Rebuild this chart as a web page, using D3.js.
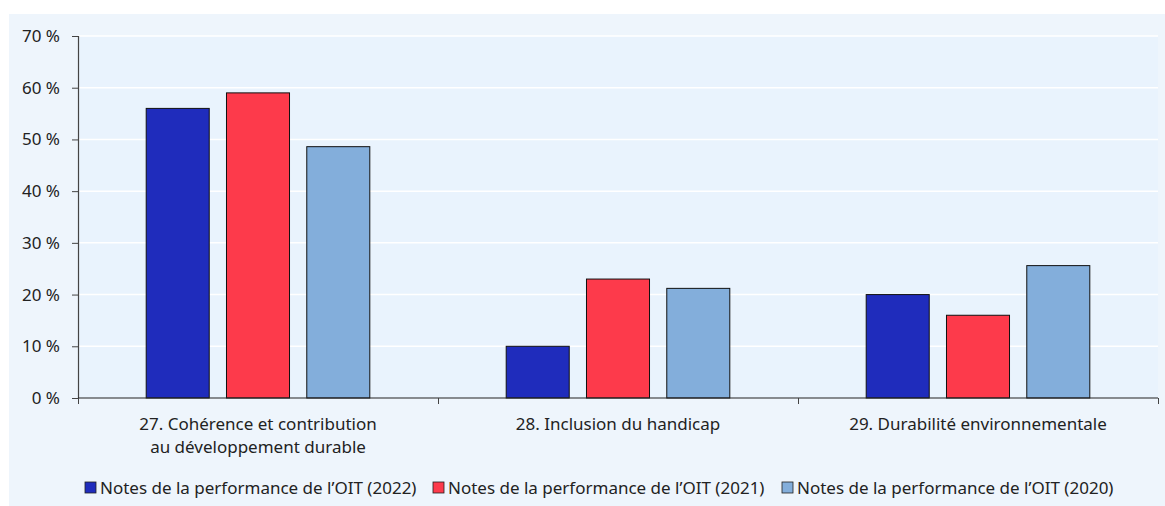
<!DOCTYPE html>
<html><head><meta charset="utf-8">
<script src="https://cdn.jsdelivr.net/npm/d3@7"></script>
<style>
html,body{margin:0;padding:0;background:#fff;}
svg text{font-family:"Noto Sans","Open Sans",sans-serif;fill:#222;}
</style></head>
<body>
<svg id="chart" width="1165" height="506"></svg>
<script>
const categories = [["27. Cohérence et contribution","au développement durable"],["28. Inclusion du handicap"],["29. Durabilité environnementale"]];
const seriesNames = ["Notes de la performance de l\u2019OIT (2022)","Notes de la performance de l\u2019OIT (2021)","Notes de la performance de l\u2019OIT (2020)"];
const values2022 = [56, 10, 20];
const values2021 = [59, 23, 16];
const values2020 = [48.6, 21.2, 25.6];
const yTicks = [0,10,20,30,40,50,60,70];
const colors = ["#1f2cbc","#fd3a4b","#83aedb"];

const seriesValues = [values2022, values2021, values2020];
const svg = d3.select("#chart");
// panel background
svg.append("rect").attr("x",9).attr("y",14).attr("width",1165-9).attr("height",506-14).attr("fill","#eef5fc");

const L=78, R=1158, T=36, B=398;
svg.append("rect").attr("x",L).attr("y",T).attr("width",R-L).attr("height",B-T).attr("fill","#e9f3fd");

const y = d3.scaleLinear().domain([0,70]).range([B,T]);
const x0 = d3.scaleBand().domain(d3.range(categories.length)).range([L,R]).padding(0);
const x1 = d3.scaleBand().domain(d3.range(seriesNames.length)).range([68.2, x0.bandwidth()-68.2]).paddingInner(0.215).paddingOuter(0);

// gridlines
svg.append("g").selectAll("line").data(yTicks.filter(d=>d>0)).join("line")
  .attr("x1",L).attr("x2",R).attr("y1",d=>y(d)).attr("y2",d=>y(d))
  .attr("stroke","#ffffff").attr("stroke-width",1.5);

// bars
const g = svg.append("g");
seriesValues.forEach((vals,si)=>{
  g.selectAll(null).data(vals).join("rect")
    .attr("x",(d,i)=>x0(i)+x1(si))
    .attr("y",d=>y(d))
    .attr("width",x1.bandwidth())
    .attr("height",d=>B-y(d))
    .attr("fill",colors[si])
    .attr("stroke","#111")
    .attr("stroke-width",1);
});

// y axis
const yAxis = d3.axisLeft(y).tickValues(yTicks).tickSize(6).tickPadding(12).tickFormat(d=>d+" %");
const ya = svg.append("g").attr("transform",`translate(${L},0)`).call(yAxis);
ya.select(".domain").attr("stroke","#444").attr("stroke-width",1.2);
ya.selectAll(".tick line").attr("stroke","#444");
ya.selectAll(".tick text").style("font-size","17px").attr("fill","#222");

// x axis
const xAxis = d3.axisBottom(d3.scaleLinear().domain([0,3]).range([L,R])).tickValues([0,1,2,3]).tickSize(6).tickFormat("");
const xa = svg.append("g").attr("transform",`translate(0,${B})`).call(xAxis);
xa.select(".domain").attr("stroke","#222").attr("stroke-width",1.2).attr("d",`M${L},0H${R}`);
xa.selectAll(".tick line").attr("stroke","#444");

// category labels
categories.forEach((lines,i)=>{
  const t = svg.append("text").attr("text-anchor","middle")
    .attr("x",x0(i)+x0.bandwidth()/2).attr("y",430).style("font-size","17px");
  lines.forEach((ln,k)=>{
    t.append("tspan").attr("x",x0(i)+x0.bandwidth()/2).attr("y",430+k*23).text(ln);
  });
});

// legend
const legend = svg.append("g");
const legX = [85, 433, 782];
seriesNames.forEach((name,i)=>{
  const gg = legend.append("g").attr("transform",`translate(${legX[i]},0)`);
  gg.append("rect").attr("x",0).attr("y",482).attr("width",11).attr("height",11)
    .attr("fill",colors[i]).attr("stroke","#222").attr("stroke-width",0.8);
  gg.append("text").attr("x",15).attr("y",494).style("font-size","17px").text(name);
});
</script>
</body></html>
